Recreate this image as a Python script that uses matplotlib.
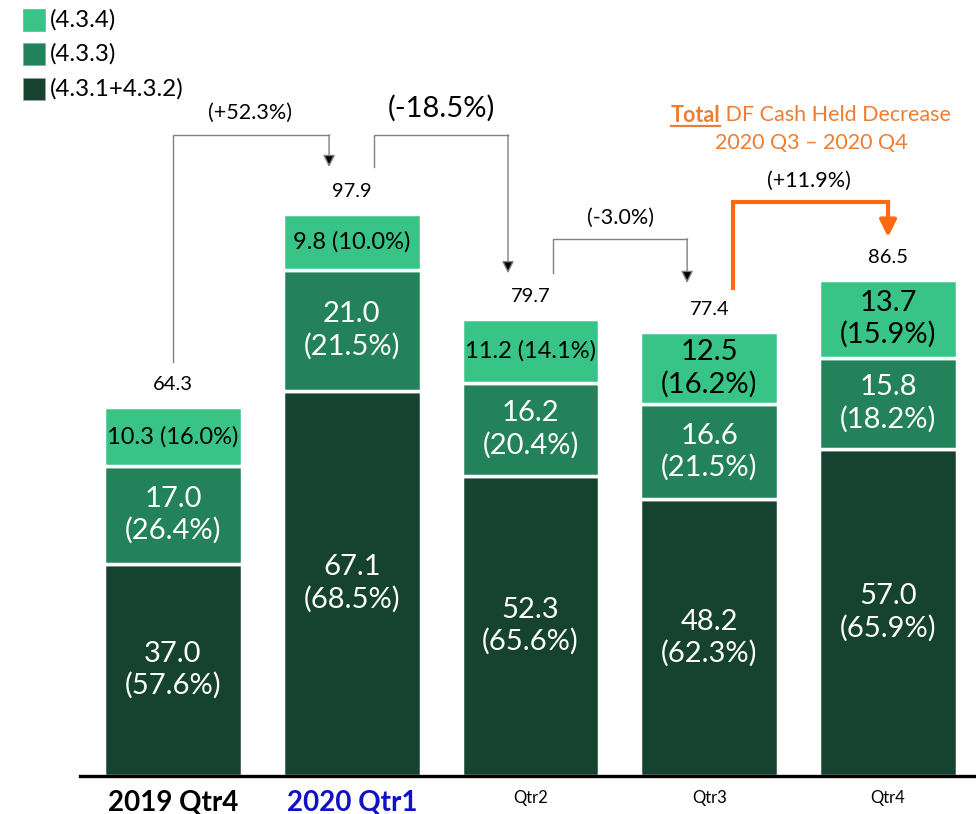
import matplotlib
matplotlib.use("Agg")
import matplotlib.pyplot as plt
from matplotlib.patches import Rectangle
import matplotlib.lines as mlines

plt.rcParams['font.family'] = ['Lato', 'DejaVu Sans']

# ---------------- data ----------------
categories = ["2019 Qtr4", "2020 Qtr1", "Qtr2", "Qtr3", "Qtr4"]
dark = [37.0, 67.1, 52.3, 48.2, 57.0]        # (4.3.1+4.3.2)
mid = [17.0, 21.0, 16.2, 16.6, 15.8]         # (4.3.3)
light = [10.3, 9.8, 11.2, 12.5, 13.7]        # (4.3.4)
pct_dark = [57.6, 68.5, 65.6, 62.3, 65.9]
pct_mid = [26.4, 21.5, 20.4, 21.5, 18.2]
pct_light = [16.0, 10.0, 14.1, 16.2, 15.9]
totals = [64.3, 97.9, 79.7, 77.4, 86.5]
changes = ["(+52.3%)", "(-18.5%)", "(-3.0%)", "(+11.9%)"]
legend_labels = ["(4.3.4)", "(4.3.3)", "(4.3.1+4.3.2)"]

C_LIGHT = "#38C487"
C_MID = "#24825A"
C_DARK = "#15432F"
ORANGE_TXT = "#ED7D31"
ORANGE_ARR = "#FF6A10"
GRAY = "#808080"

fig = plt.figure(figsize=(9.76, 8.14), dpi=100)
ax = fig.add_axes([80 / 976, 38 / 814, 896 / 976, 776 / 814])
ax.set_xlim(-0.5203, 4.492)
ax.set_ylim(0, 135.2)

x = list(range(len(categories)))
w = 0.77
bottoms_mid = dark
bottoms_light = [d + m for d, m in zip(dark, mid)]
ax.bar(x, dark, width=w, color=C_DARK, edgecolor="white", linewidth=2.5, zorder=2)
ax.bar(x, mid, width=w, bottom=bottoms_mid, color=C_MID, edgecolor="white", linewidth=2.5, zorder=2)
ax.bar(x, light, width=w, bottom=bottoms_light, color=C_LIGHT, edgecolor="white", linewidth=2.5, zorder=2)

FS_SEG = 21
# segment labels
for i in x:
    ax.text(i, dark[i] / 2, f"{dark[i]:.1f}\n({pct_dark[i]:.1f}%)", ha="center", va="center",
            color="white", fontsize=FS_SEG, linespacing=1.25, zorder=3)
    ax.text(i, dark[i] + mid[i] / 2, f"{mid[i]:.1f}\n({pct_mid[i]:.1f}%)", ha="center", va="center",
            color="white", fontsize=FS_SEG, linespacing=1.25, zorder=3)
    yc = bottoms_light[i] + light[i] / 2
    if i < 3:
        ax.text(i, yc, f"{light[i]:.1f} ({pct_light[i]:.1f}%)", ha="center", va="center",
                color="black", fontsize=17, zorder=3)
    else:
        ax.text(i, yc, f"{light[i]:.1f}\n({pct_light[i]:.1f}%)", ha="center", va="center",
                color="black", fontsize=FS_SEG, linespacing=1.25, zorder=3)
    ax.text(i, totals[i] + 3.9, f"{totals[i]:.1f}", ha="center", va="center",
            color="black", fontsize=14.5, zorder=3)


def connector(x0, y0, ytop, x1, ytip, color=GRAY, lw=1.0, head_color="black", ms=18):
    ax.plot([x0, x0, x1], [y0, ytop, ytop], color=color, lw=lw, solid_joinstyle="miter",
            clip_on=False, zorder=4)
    ax.annotate("", xy=(x1, ytip), xytext=(x1, ytop),
                arrowprops=dict(arrowstyle="-|>", edgecolor=color, facecolor=head_color,
                                lw=lw, shrinkA=0, shrinkB=0, mutation_scale=ms),
                annotation_clip=False, zorder=4)


# Qtr4 2019 -> 2020 Qtr1
connector(0, totals[0] + 7.8, 111.7, 0.873, totals[1] + 8.2)
ax.text(0.43, 115.5, changes[0], ha="center", va="center", fontsize=15.5)
# 2020 Qtr1 -> Qtr2
connector(1.124, totals[1] + 8.2, 111.7, 1.874, totals[2] + 7.9)
ax.text(1.5, 116.4, changes[1], ha="center", va="center", fontsize=21)
# Qtr2 -> Qtr3
connector(2.126, totals[2] + 7.9, 93.6, 2.876, totals[3] + 8.5)
ax.text(2.506, 97.2, changes[2], ha="center", va="center", fontsize=15.5)
# Qtr3 -> Qtr4 (orange)
connector(3.133, totals[3] + 7.6, 100.0, 4.0, totals[4] + 7.4, color=ORANGE_ARR, lw=3,
          head_color=ORANGE_ARR, ms=25)
ax.text(3.56, 103.7, changes[3], ha="center", va="center", fontsize=15.5)

# Orange title
fig.canvas.draw()
renderer = fig.canvas.get_renderer()
fs_t = 15.5
t1 = fig.text(0, 0, "Total", fontsize=fs_t, fontweight="bold", color=ORANGE_TXT, va="center")
t2 = fig.text(0, 0, " DF Cash Held Decrease", fontsize=fs_t, color=ORANGE_TXT, va="center")
w1 = t1.get_window_extent(renderer).width
w2 = t2.get_window_extent(renderer).width
cx, cy = 811, 814 - 115
x_start = cx - (w1 + w2) / 2
t1.set_position((x_start / 976, cy / 814))
t2.set_position(((x_start + w1) / 976, cy / 814))
ul_y = (cy - 11) / 814
fig.add_artist(mlines.Line2D([x_start / 976, (x_start + w1) / 976], [ul_y, ul_y],
                             color=ORANGE_TXT, lw=1.6))
fig.text(cx / 976, (814 - 143) / 814, "2020 Q3 \u2013 2020 Q4", fontsize=fs_t, color=ORANGE_TXT,
         ha="center", va="center")

# axes styling
for s in ["left", "right", "top"]:
    ax.spines[s].set_visible(False)
ax.spines["bottom"].set_linewidth(2.4)
ax.spines["bottom"].set_color("black")
ax.spines["bottom"].set_zorder(5)
ax.set_yticks([])
ax.set_xticks(x)
ax.set_xticklabels(categories)
ax.tick_params(axis="x", length=0, pad=10)
for i, lab in enumerate(ax.get_xticklabels()):
    if i == 0:
        lab.set_fontsize(20)
        lab.set_fontweight("bold")
        lab.set_color("black")
    elif i == 1:
        lab.set_fontsize(20)
        lab.set_fontweight("bold")
        lab.set_color("#1010C8")
    else:
        lab.set_fontsize(12)
        lab.set_color("black")

# legend (manual)
leg_colors = [C_LIGHT, C_MID, C_DARK]
leg_y = [20, 54, 89]
for c, yy, lab in zip(leg_colors, leg_y, legend_labels):
    fig.add_artist(Rectangle((23 / 976, (814 - yy - 11) / 814), 22 / 976, 22 / 814,
                             facecolor=c, edgecolor="#A0A0A0", lw=0.6,
                             transform=fig.transFigure))
    fig.text(50 / 976, (814 - yy) / 814, lab, fontsize=17.3, va="center", ha="left")

fig.savefig("out.png", dpi=100)
